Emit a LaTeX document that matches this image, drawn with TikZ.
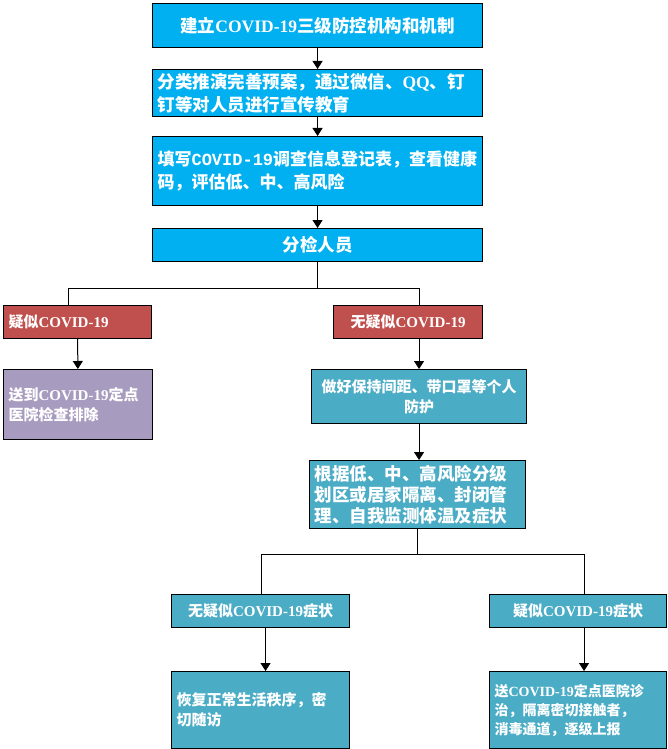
\documentclass[tikz,border=0pt]{standalone}
\usepackage{fontspec}
\setmainfont{Noto Sans CJK SC}
\newfontfamily\latfont{Liberation Serif}
\newfontfamily\codefont{Liberation Mono}
\usepackage{tikz}
\usetikzlibrary{positioning,arrows.meta}
\usepackage{xcolor}
\definecolor{topblue}{HTML}{00B0F0}
\definecolor{alertred}{HTML}{C0504D}
\definecolor{lilac}{HTML}{A89BC0}
\definecolor{stepteal}{HTML}{4BACC6}
\newcommand\enword[1]{{\latfont #1}}
\newcommand\codeword[1]{{\codefont #1}}

\begin{document}
\begin{tikzpicture}[x=1pt,y=-1pt,
    box/.style={rectangle,draw=black,line width=1.1pt,text=white,anchor=north west,
      inner xsep=5pt,inner ysep=0pt,font=\bfseries\fontsize{15}{20}\selectfont},
    topbox/.style={box,fill=topblue,font=\bfseries\fontsize{17.5}{23}\selectfont},
    redbox/.style={box,fill=alertred,minimum height=33},
    tealbox/.style={box,fill=stepteal},
    link/.style={line width=1pt},
    arr/.style={-{Triangle[width=10pt,length=8pt]},line width=1pt}]

\useasboundingbox (0,0) rectangle (667,749);

\node[topbox,minimum width=330,minimum height=44,align=center] (build) at (152,3) {建立\enword{COVID-19}三级防控机构和机制};
\node[topbox,text width=320,minimum height=47,align=left] (plan) at (152,69) {分类推演完善预案，通过微信、\enword{QQ}、钉\\钉等对人员进行宣传教育};
\node[topbox,text width=320,minimum height=69,align=left,
      font=\bfseries\fontsize{17}{23}\selectfont] (form) at (152,136) {\mbox{填写\codeword{COVID-19}调查信息登记表，查看健康}\\码，评估低、中、高风险};
\node[topbox,minimum width=330,minimum height=33,align=center] (sort) at (152,228) {分检人员};

\node[redbox,text width=138,align=left] (susp) at (3,305) {疑似\enword{COVID-19}};
\node[redbox,minimum width=149,align=center] (nosusp) at (333,305) {无疑似\enword{COVID-19}};

\node[box,fill=lilac,text width=139,minimum height=70,align=left] (hosp) at (3,369) {送到\enword{COVID-19}定点\\医院检查排除};
\node[tealbox,minimum width=215,minimum height=54,align=center] (protect) at (311,369) {做好保持间距、带口罩等个人\\防护};
\node[tealbox,text width=206,minimum height=68,align=left,
      font=\bfseries\fontsize{17.5}{21}\selectfont] (manage) at (309,460) {根据低、中、高风险分级\\划区或居家隔离、封闭管\\理、自我监测体温及症状};

\node[tealbox,minimum width=178,minimum height=33,align=center] (nosymp) at (171,594) {无疑似\enword{COVID-19}症状};
\node[tealbox,minimum width=177,minimum height=33,align=center] (symp) at (489,594) {疑似\enword{COVID-19}症状};

\node[tealbox,text width=168,minimum height=77,align=left] (normal) at (171,671) {恢复正常生活秩序，密\\切随访};
\node[tealbox,text width=167,minimum height=77,align=left,
      font=\bfseries\fontsize{14}{19}\selectfont] (treat) at (489,671) {送\enword{COVID-19}定点医院诊\\治，隔离密切接触者，\\消毒通道，逐级上报};

% top column
\draw[arr] (build) -- (plan);
\draw[arr] (plan) -- (form);
\draw[arr] (form) -- (sort);

% first split
\coordinate[below=26pt of sort.south] (fork1);
\draw[link] (sort.south) -- (fork1);
\draw[link] ([xshift=-9pt]susp.north) |- (fork1) -| ([xshift=11pt]nosusp.north);
\draw[arr] (susp) -- (hosp);
\draw[arr] ([xshift=11pt]nosusp.south) -- (protect.north);
\draw[arr] (protect.south) -- (protect.south |- manage.north);

% second split
\coordinate[below=25pt of manage.south] (fork2);
\draw[link] (manage.south) -- (fork2);
\draw[link] ([xshift=1pt]nosymp.north) |- (fork2) -| ([xshift=6pt]symp.north);
\draw[arr] ([xshift=5pt]nosymp.south) -- ([xshift=5pt]normal.north);
\draw[arr] ([xshift=6pt]symp.south) -- ([xshift=6pt]treat.north);

\end{tikzpicture}
\end{document}
